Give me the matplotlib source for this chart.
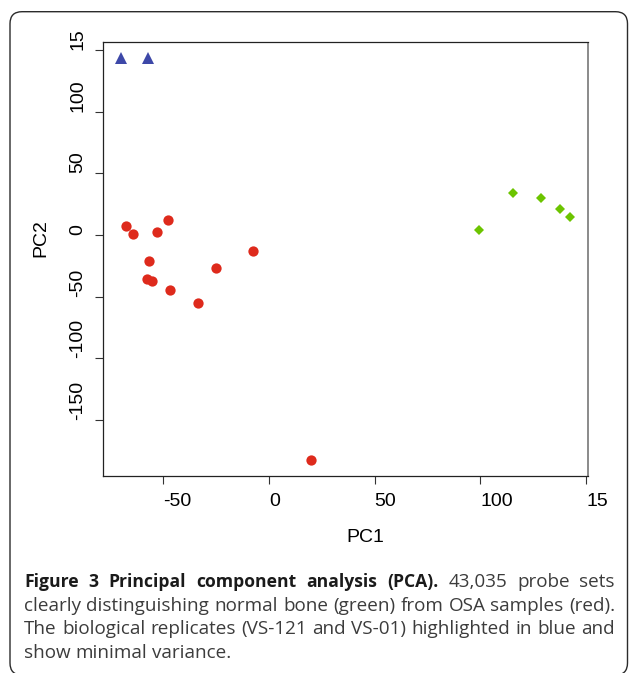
import matplotlib
matplotlib.use("Agg")
import matplotlib.pyplot as plt
from matplotlib.patches import FancyBboxPatch

# PC scores
osa_pc1 = [-67.4, -64.4, -47.9, -52.7, -56.5, -57.8, -55.4, -46.9, -33.4, -25.2, -7.7, 20.0]
osa_pc2 = [7.0, 0.8, 12.2, 2.1, -20.8, -36.0, -37.6, -44.6, -55.4, -26.7, -13.3, -182.9]
normal_pc1 = [99.2, 115.6, 128.5, 137.7, 142.3]
normal_pc2 = [3.7, 34.3, 30.2, 21.1, 14.3]
replicate_pc1 = [-70.1, -57.2]
replicate_pc2 = [143.9, 143.9]

x_ticks = [-50, 0, 50, 100, 150]
x_tick_labels = ["-50", "0", "50", "100", "15"]   # "150" is cut off in the figure
y_ticks = [-150, -100, -50, 0, 50, 100, 150]
y_tick_labels = ["-150", "-100", "-50", "0", "50", "100", "15"]

caption_bold = "Figure 3 Principal component analysis (PCA)."
caption_rest = [
    "43,035 probe sets",
    "clearly distinguishing normal bone (green) from OSA samples (red).",
    "The biological replicates (VS-121 and VS-01) highlighted in blue and",
    "show minimal variance.",
]

W, H = 629, 673
RED = "#de2a1c"
GREEN = "#6cc400"
BLUE = "#3d48a8"
AX_FONT = "Liberation Sans"
CAP_FONT = "Open Sans"


#? ================================= R style limits (4% padding)
def r_lim(vals):
    lo, hi = min(vals), max(vals)
    pad = 0.04 * (hi - lo)
    return lo - pad, hi + pad


fig = plt.figure(figsize=(W / 100, H / 100), dpi=100)

# plot box in pixels (left, top, right, bottom)
bx0, by0, bx1, by1 = 102.7, 41.7, 587.7, 476.3
ax = fig.add_axes([bx0 / W, 1 - by1 / H, (bx1 - bx0) / W, (by1 - by0) / H])

ax.plot(osa_pc1, osa_pc2, linestyle="none", marker="o", ms=7.4, color=RED, mec=RED, mew=0)
ax.plot(normal_pc1, normal_pc2, linestyle="none", marker="D", ms=5.0, color=GREEN, mew=0)
ax.plot(replicate_pc1, replicate_pc2, linestyle="none", marker="^", ms=9.0, color=BLUE, mew=0)

ax.set_xlim(*r_lim(osa_pc1 + normal_pc1 + replicate_pc1))
ax.set_ylim(*r_lim(osa_pc2 + normal_pc2 + replicate_pc2))

ax.set_xticks(x_ticks)
ax.set_xticklabels(x_tick_labels, fontfamily=AX_FONT, fontsize=14, ha="left")
ax.set_yticks(y_ticks)
ax.set_yticklabels(y_tick_labels, fontfamily=AX_FONT, fontsize=14, rotation=90, va="bottom", ha="right")
ax.tick_params(axis="both", direction="out", length=5.8, width=0.8, color="#333333", pad=6)

for side in ["left", "bottom", "top"]:
    ax.spines[side].set_linewidth(0.9)
    ax.spines[side].set_color("#222222")
ax.spines["right"].set_linewidth(1.4)
ax.spines["right"].set_color("#8a8a8a")
ax.spines["right"].set_capstyle("butt")

fig.text(346 / W, 1 - 541.7 / H, "PC1", fontfamily=AX_FONT, fontsize=14, ha="left", va="baseline")
fig.text(41 / W, 1 - 256.7 / H, "PC2", fontfamily=AX_FONT, fontsize=14, rotation=90, ha="center", va="bottom")


#? ================================= caption, justified like the journal page
cap_left, cap_right = 24, 615
base_y = 587
line_h = 23.7
bold_size = 12.6
reg_size = 13.6
renderer = fig.canvas.get_renderer()


def caption_line(segments, y_px, justify=True):
    texts = []
    for seg, is_bold in segments:
        for word in seg.split():
            t = fig.text(0, 1 - y_px / H, word, fontfamily=CAP_FONT, va="baseline",
                         fontweight="bold" if is_bold else "normal",
                         fontsize=bold_size if is_bold else reg_size,
                         color="#1a1a1a" if is_bold else "#3c3c3c")
            texts.append(t)
    widths = [t.get_window_extent(renderer).width for t in texts]
    if justify and len(texts) > 1:
        gap = (cap_right - cap_left - sum(widths)) / (len(texts) - 1)
    else:
        gap = 0.26 * reg_size * 100 / 72
    x = cap_left
    for t, wd in zip(texts, widths):
        t.set_x(x / W)
        x += wd + gap


caption_line([(caption_bold, True), (caption_rest[0], False)], base_y)
caption_line([(caption_rest[1], False)], base_y + line_h)
caption_line([(caption_rest[2], False)], base_y + 2 * line_h)
caption_line([(caption_rest[3], False)], base_y + 3 * line_h, justify=False)

# rounded frame round the whole figure
frame = FancyBboxPatch((10 / 100, (H - 675) / 100), (627.5 - 10) / 100, (675 - 11.7) / 100,
                       boxstyle="round,pad=0,rounding_size=0.12", transform=fig.dpi_scale_trans,
                       fill=False, edgecolor="#2b2b2b", linewidth=1.0)
fig.patches.append(frame)

fig.savefig("out.png", dpi=100)
